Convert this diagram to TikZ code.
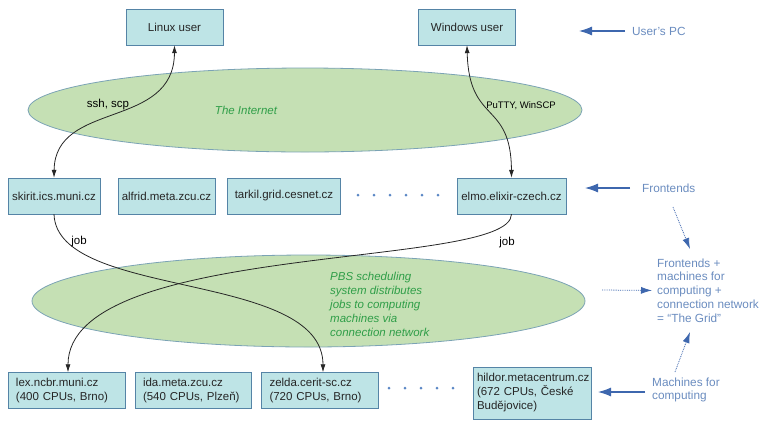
\documentclass[tikz,border=0pt]{standalone}
\usepackage{fontspec}
\setmainfont{Liberation Sans}
\usetikzlibrary{arrows.meta}

\definecolor{boxfill}{HTML}{BEE4E6}
\definecolor{boxline}{HTML}{5584A6}
\definecolor{cloudfill}{HTML}{C5E0B4}
\definecolor{cloudline}{HTML}{7BA3B5}
\definecolor{cloudtext}{HTML}{2F9E48}
\definecolor{notetext}{HTML}{6A8CBF}
\definecolor{notearrow}{HTML}{3E67AE}
\definecolor{dotcol}{HTML}{5B87C5}

\tikzset{
	host/.style={draw=boxline, fill=boxfill, text=black!85, inner sep=0pt, minimum height=36pt, font=\fontsize{11.5}{14}\selectfont},
	twoline/.style={host, inner xsep=8pt, align=left},
	cloud/.style={draw=cloudline, fill=cloudfill, line width=0.8pt},
	cloudlabel/.style={text=cloudtext, font=\fontsize{11.5}{14}\selectfont\itshape},
	note/.style={text=notetext, font=\fontsize{11.8}{13.8}\selectfont, inner sep=0pt},
	link/.style={black!85, line width=0.8pt},
	jobtip/.tip={Latex[length=8pt,width=5pt]},
	pointer/.style={notearrow, line width=1.1pt, -{Latex[length=13pt,width=9pt]}},
	hint/.style={notearrow, line width=0.8pt, densely dotted, -{Latex[length=11pt,width=7pt]}},
	linklabel/.style={font=\fontsize{11.5}{14}\selectfont, inner sep=1pt}
}

\begin{document}
\begin{tikzpicture}[x=1pt,y=-1pt]
	\useasboundingbox (0,0) rectangle (763,424);

	% the two networks
	\draw[cloud] (305,110) ellipse [x radius=277, y radius=42];
	\draw[cloud] (308.5,301) ellipse [x radius=276.5, y radius=46];
	\node[cloudlabel] (inet) at (246,110) {The Internet};
	\node[cloudlabel, align=left, anchor=west, inner sep=0pt] (pbs) at (330,304) {PBS scheduling\\system distributes\\jobs to computing\\machines via\\connection network};

	% users
	\node[host, minimum width=97pt] (linux) at (174.5,27) {Linux user};
	\node[host, minimum width=97pt] (windows) at (467,27) {Windows user};

	% frontends
	\node[host, minimum width=92pt] (skirit) at (54,196) {skirit.ics.muni.cz};
	\node[host, minimum width=97pt] (alfrid) at (166.5,196) {alfrid.meta.zcu.cz};
	\node[host, minimum width=113pt] (tarkil) at (284,196) {tarkil.grid.cesnet.cz};
	\node[host, minimum width=109pt] (elmo) at (511.5,196) {elmo.elixir-czech.cz};
	\foreach \x in {358,374,...,438}
		\fill[dotcol] (\x,195) circle (1.5);

	% machines for computing
	\node[twoline, text width=101pt] (lex) at (66.5,390.5) {lex.ncbr.muni.cz\\(400 CPUs, Brno)};
	\node[twoline, text width=100pt] (ida) at (193,390.5) {ida.meta.zcu.cz\\(540 CPUs, Plzeň)};
	\node[twoline, text width=101pt] (zelda) at (320,390.5) {zelda.cerit-sc.cz\\(720 CPUs, Brno)};
	\node[twoline, text width=110pt, inner xsep=4pt, minimum height=52pt] (hildor) at (532,393) {hildor.metacentrum.cz\\(672 CPUs, České\\Budějovice)};
	\foreach \x in {389,405,...,453}
		\fill[dotcol] (\x,388) circle (1.5);

	% connections
	\draw[link, jobtip-jobtip] (linux.south) .. controls (174,130) and (55,100) .. (skirit.north);
	\draw[link, jobtip-jobtip] (windows.south) .. controls (469,125) and (511,100) .. (elmo.north);
	\node[linklabel] (ssh) at (108,105) {ssh, scp};
	\node[linklabel, font=\fontsize{9.5}{11}\selectfont] (putty) at (521,106) {PuTTY, WinSCP};

	\draw[link, -jobtip] (skirit.south) .. controls (57,300) and (323,270) .. (zelda.north -| 323,0);
	\draw[link, -jobtip] (elmo.south) .. controls (511,270) and (68,240) .. (lex.north -| 68,0);
	\node[linklabel] (job1) at (79,242) {job};
	\node[linklabel] (job2) at (507,243) {job};

	% notes on the right
	\node[note, anchor=west] (pc) at (632,31) {User's PC};
	\node[note, anchor=west] (fe) at (642,188) {Frontends};
	\node[note, anchor=west, align=left] (mach) at (652,390) {Machines for\\computing};
	\node[note, anchor=west, align=left] (grid) at (657,290.5) {Frontends +\\machines for\\computing +\\connection network\\= “The Grid”};

	\coordinate (pcend) at (579,31);
	\coordinate (feend) at (585,188);
	\coordinate (machend) at (598,392);
	\draw[pointer] (pc.west) ++(-7,0) -- (pcend);
	\draw[pointer] (fe.west) ++(-12,0) -- (feend);
	\draw[pointer] (mach.west) ++(-7,2) -- (machend);

	\coordinate (fehint) at (673,207);
	\coordinate (fehintend) at (690,249);
	\coordinate (pbshint) at (602,290);
	\coordinate (machhint) at (675,372);
	\coordinate (machhintend) at (690,332);
	\draw[hint] (fehint) -- (fehintend);
	\draw[hint, shorten >=5pt] (pbshint) -- (grid.west);
	\draw[hint] (machhint) -- (machhintend);
\end{tikzpicture}
\end{document}
